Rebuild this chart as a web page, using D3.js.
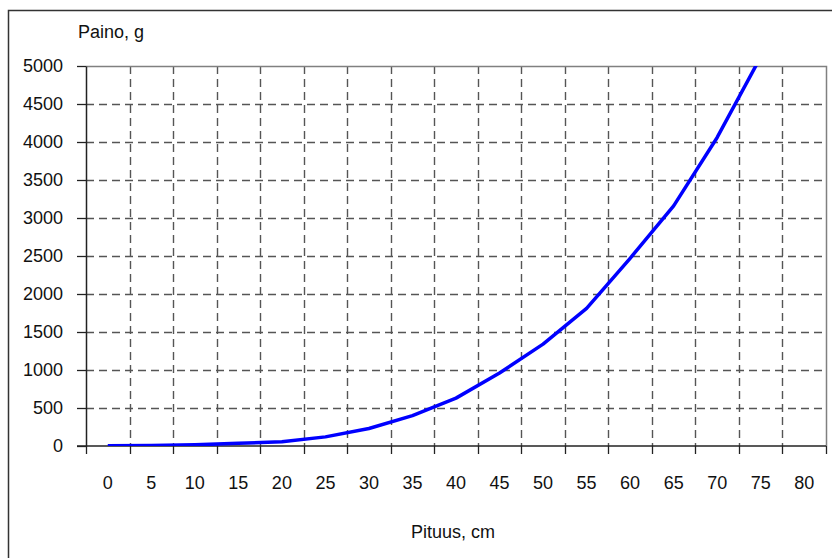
<!DOCTYPE html>
<html>
<head>
<meta charset="utf-8">
<script src="https://cdn.jsdelivr.net/npm/d3@7"></script>
<style>
  html, body { margin: 0; padding: 0; background: #fff; }
  svg { display: block; }
  text { font-family: "Liberation Sans", Arial, sans-serif; fill: #111; }
</style>
</head>
<body>
<svg id="chart" width="832" height="558"></svg>
<script>
// ---- data ----
const lengths = ["0","5","10","15","20","25","30","35","40","45","50","55","60","65","70","75","80"];
const weights = [2, 5, 15, 35, 55, 120, 230, 400, 630, 960, 1340, 1810, 2470, 3160, 4060, 5120, null];
const yTicks = [0, 500, 1000, 1500, 2000, 2500, 3000, 3500, 4000, 4500, 5000];
const yTitle = "Paino, g";
const xTitle = "Pituus, cm";

// ---- layout ----
const W = 832, H = 558;
const plot = { left: 86, right: 826, top: 66, bottom: 446 };

const svg = d3.select("#chart");

// outer frame (right/bottom edges fall outside the picture)
svg.append("rect")
  .attr("x", 8.5).attr("y", 10.5)
  .attr("width", 840).attr("height", 570)
  .attr("fill", "none").attr("stroke", "#333").attr("stroke-width", 1.5);

const x = d3.scaleBand().domain(lengths).range([plot.left, plot.right]).padding(0);
const y = d3.scaleLinear().domain([0, 5000]).range([plot.bottom, plot.top]);

// gridlines
const grid = svg.append("g").attr("stroke", "#555").attr("stroke-width", 1.4)
  .attr("stroke-dasharray", "8,5");
grid.selectAll("line.h").data(yTicks.filter(d => d > 0 && d < 5000)).join("line")
  .attr("x1", plot.left).attr("x2", plot.right)
  .attr("y1", d => Math.round(y(d)) + 0.5).attr("y2", d => Math.round(y(d)) + 0.5);
const boundaries = lengths.slice(1).map(c => x(c));
grid.selectAll("line.v").data(boundaries).join("line")
  .attr("x1", d => Math.round(d) + 0.5).attr("x2", d => Math.round(d) + 0.5)
  .attr("y1", plot.top).attr("y2", plot.bottom);

// plot frame top & right (grey)
svg.append("path")
  .attr("d", `M${plot.left},${plot.top + 0.5}H${plot.right + 0.5}V${plot.bottom}`)
  .attr("fill", "none").attr("stroke", "#808080").attr("stroke-width", 1.5);

// y axis
const yAxis = d3.axisLeft(y).tickValues(yTicks).tickFormat(d3.format("d"))
  .tickSize(9).tickPadding(14).tickSizeOuter(0);
const gy = svg.append("g").attr("transform", `translate(${plot.left},0)`).call(yAxis);
gy.select(".domain").attr("stroke", "#222").attr("stroke-width", 1.5);
gy.selectAll(".tick line").attr("stroke", "#222").attr("stroke-width", 1.3);
gy.selectAll(".tick text").attr("font-size", 18).attr("fill", "#111")
  .style("font-family", '"Liberation Sans", Arial, sans-serif');

// x axis (category axis, ticks between categories)
const xAxis = d3.axisBottom(x).tickSize(0).tickPadding(30);
const gx = svg.append("g").attr("transform", `translate(0,${plot.bottom})`).call(xAxis);
gx.select(".domain").remove();
gx.selectAll(".tick text").attr("font-size", 18).attr("fill", "#111")
  .style("font-family", '"Liberation Sans", Arial, sans-serif');
svg.append("line")
  .attr("x1", plot.left - 9).attr("x2", plot.right)
  .attr("y1", plot.bottom).attr("y2", plot.bottom)
  .attr("stroke", "#222").attr("stroke-width", 1.5);
const bticks = lengths.map(c => x(c)).concat([x(lengths[lengths.length - 1]) + x.bandwidth()]);
svg.append("g").selectAll("line").data(bticks).join("line")
  .attr("x1", d => Math.round(d) + 0.5).attr("x2", d => Math.round(d) + 0.5)
  .attr("y1", plot.bottom).attr("y2", plot.bottom + 8)
  .attr("stroke", "#222").attr("stroke-width", 1.3);

// titles
svg.append("text").attr("x", 78).attr("y", 38).attr("font-size", 18).text(yTitle);
svg.append("text").attr("x", 453).attr("y", 538).attr("font-size", 18)
  .attr("text-anchor", "middle").text(xTitle);

// clip + line
svg.append("clipPath").attr("id", "plotclip").append("rect")
  .attr("x", plot.left).attr("y", plot.top)
  .attr("width", plot.right - plot.left).attr("height", plot.bottom - plot.top);

const pts = lengths.map((c, i) => ({ c, v: weights[i] })).filter(d => d.v != null);
const line = d3.line()
  .x(d => x(d.c) + x.bandwidth() / 2)
  .y(d => y(d.v));
svg.append("path").datum(pts)
  .attr("clip-path", "url(#plotclip)")
  .attr("d", line)
  .attr("fill", "none").attr("stroke", "#0000ff").attr("stroke-width", 3.5)
  .attr("stroke-linejoin", "round");
</script>
</body>
</html>
